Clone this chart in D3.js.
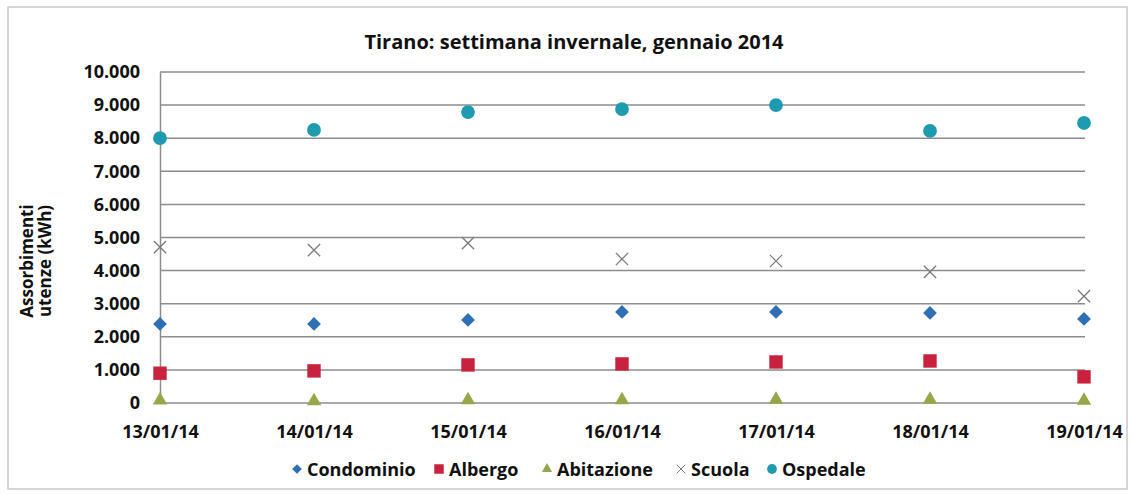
<!DOCTYPE html>
<html><head><meta charset="utf-8">
<script src="https://cdn.jsdelivr.net/npm/d3@7"></script>
<style>body{margin:0;background:#fff;font-family:"Open Sans",sans-serif;}</style>
</head><body><svg id="c" width="1134" height="495"></svg>
<script>
const dates = ["13/01/14","14/01/14","15/01/14","16/01/14","17/01/14","18/01/14","19/01/14"];
const condominio = [2390, 2390, 2510, 2750, 2750, 2720, 2540];
const albergo    = [900, 970, 1150, 1180, 1240, 1270, 790];
const abitazione = [80, 60, 90, 90, 100, 100, 70];
const scuola     = [4710, 4620, 4830, 4350, 4290, 3960, 3230];
const ospedale   = [8000, 8250, 8790, 8880, 9000, 8220, 8460];
const yTicks = [0,1000,2000,3000,4000,5000,6000,7000,8000,9000,10000];
const seriesNames = ["Condominio","Albergo","Abitazione","Scuola","Ospedale"];

const diamond = {draw(ctx, size){const r=Math.sqrt(size/2); ctx.moveTo(0,-r); ctx.lineTo(r,0); ctx.lineTo(0,r); ctx.lineTo(-r,0); ctx.closePath();}};

const series = [
  {name:"Condominio", values:condominio, color:"#2f6fb3", sym:diamond, size:95},
  {name:"Albergo", values:albergo, color:"#c9223f", sym:d3.symbolSquare, size:180},
  {name:"Abitazione", values:abitazione, color:"#98a64a", sym:d3.symbolTriangle, size:90},
  {name:"Scuola", values:scuola, color:"#7a7a7a", sym:d3.symbolX, size:100},
  {name:"Ospedale", values:ospedale, color:"#1e9bae", sym:d3.symbolCircle, size:150}
];

const svg = d3.select("#c");
svg.append("rect").attr("x",8).attr("y",7).attr("width",1119).attr("height",482)
  .attr("fill","#fff").attr("stroke","#c8c8c8").attr("stroke-width",1.5);

const x = d3.scalePoint().domain(dates).range([160,1084]);
const y = d3.scaleLinear().domain([0,10000]).range([403,72]);
const fmt = v => v===0 ? "0" : d3.format(",")(v).replace(/,/g,".");

// gridlines
svg.append("g").selectAll("line").data(yTicks).join("line")
  .attr("x1",160).attr("x2",1085).attr("y1",d=>y(d)).attr("y2",d=>y(d))
  .attr("stroke","#8c8c8c").attr("stroke-width",1.5);

// y axis
const ya = svg.append("g").attr("transform","translate(160,0)")
  .call(d3.axisLeft(y).tickValues(yTicks).tickFormat(fmt).tickSize(0).tickPadding(20));
ya.select(".domain").attr("stroke","#8c8c8c").attr("stroke-width",1.5);
ya.selectAll("text").attr("font-family","Open Sans").attr("font-weight","bold")
  .attr("font-size",18).attr("fill","#111");

// x axis
const xa = svg.append("g").attr("transform","translate(0,403)")
  .call(d3.axisBottom(x).tickSize(0).tickPadding(22));
xa.select(".domain").remove();
xa.selectAll("text").attr("font-family","Open Sans").attr("font-weight","bold")
  .attr("font-size",18).attr("fill","#111");

// points
series.forEach(s=>{
  svg.append("g").selectAll("path").data(s.values).join("path")
    .attr("transform",(d,i)=>`translate(${x(dates[i])},${y(d)})`)
    .attr("d",d3.symbol().type(s.sym).size(s.size))
    .attr("fill", s.name==="Scuola" ? "none" : s.color)
    .attr("stroke", s.name==="Scuola" ? s.color : "none")
    .attr("stroke-width",1.3);
});

// title
svg.append("text").attr("x",574).attr("y",49).attr("text-anchor","middle")
  .attr("font-family","Open Sans").attr("font-weight","bold").attr("font-size",20)
  .attr("fill","#111").text("Tirano: settimana invernale, gennaio 2014");

// y title
const yt = svg.append("text").attr("transform","translate(33,261) rotate(-90)")
  .attr("text-anchor","middle").attr("font-family","Open Sans").attr("font-weight","bold")
  .attr("font-size",17).attr("fill","#111");
yt.append("tspan").attr("x",0).attr("dy",0).text("Assorbimenti");
yt.append("tspan").attr("x",0).attr("dy",18).text("utenze (kWh)");

// legend
const legX = [297, 439, 547, 681, 772];
const lg = svg.append("g");
series.forEach((s,i)=>{
  lg.append("path").attr("transform",`translate(${legX[i]},469)`)
    .attr("d",d3.symbol().type(s.sym).size(s.size*0.5))
    .attr("fill", s.name==="Scuola" ? "none" : s.color)
    .attr("stroke", s.name==="Scuola" ? s.color : "none").attr("stroke-width",1);
  lg.append("text").attr("x",legX[i]+10).attr("y",476).attr("font-family","Open Sans")
    .attr("font-weight","bold").attr("font-size",18).attr("fill","#111").text(seriesNames[i]);
});
</script></body></html>
